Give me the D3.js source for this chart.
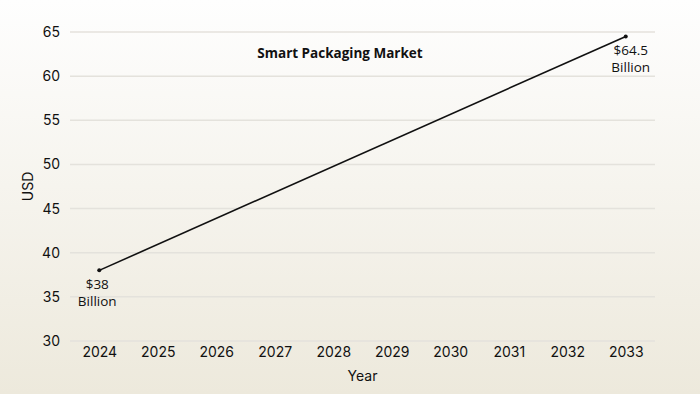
<!DOCTYPE html>
<html>
<head>
<meta charset="utf-8">
<script src="https://cdn.jsdelivr.net/npm/d3@7"></script>
<style>
  body { margin: 0; }
  svg { display: block; }
</style>
</head>
<body>
<div id="container"></div>
<script>
const years = [2024, 2025, 2026, 2027, 2028, 2029, 2030, 2031, 2032, 2033];
const yTicks = [30, 35, 40, 45, 50, 55, 60, 65];
// only the two reported endpoints
const marketYears = [2024, 2033];
const marketValues = [38, 64.5];
const valueLabels = ["$38", "$64.5"];

const W = 700, H = 394;
const margin = { top: 32, right: 45, bottom: 53, left: 70 };

const svg = d3.select("#container").append("svg")
  .attr("width", W)
  .attr("height", H);

// background gradient
const grad = svg.append("defs").append("linearGradient")
  .attr("id", "bg").attr("x1", 0).attr("y1", 0).attr("x2", 0).attr("y2", 1);
grad.append("stop").attr("offset", "0%").attr("stop-color", "#fefefe");
grad.append("stop").attr("offset", "100%").attr("stop-color", "#ede9dc");
svg.append("rect").attr("width", W).attr("height", H).attr("fill", "url(#bg)");

const x = d3.scalePoint()
  .domain(years)
  .range([margin.left, W - margin.right])
  .padding(0.5);

const y = d3.scaleLinear()
  .domain([30, 65])
  .range([H - margin.bottom, margin.top]);

// gridlines
svg.append("g")
  .selectAll("line")
  .data(yTicks)
  .join("line")
  .attr("x1", margin.left)
  .attr("x2", W - margin.right)
  .attr("y1", d => y(d))
  .attr("y2", d => y(d))
  .attr("stroke", "#e4e2dc")
  .attr("stroke-width", 1.5);

// y axis
svg.append("g")
  .attr("transform", `translate(${margin.left},0)`)
  .call(d3.axisLeft(y).tickValues(yTicks).tickSize(0).tickPadding(10))
  .call(g => g.select(".domain").remove())
  .call(g => g.selectAll("text")
    .style("font-family", "Inter, sans-serif")
    .style("font-size", "14px")
    .attr("fill", "#111"));

// x axis
svg.append("g")
  .attr("transform", `translate(0,${H - margin.bottom})`)
  .call(d3.axisBottom(x).tickSize(0).tickPadding(6).tickFormat(d3.format("d")))
  .call(g => g.select(".domain").remove())
  .call(g => g.selectAll("text")
    .style("font-family", "Inter, sans-serif")
    .style("font-size", "14px")
    .attr("fill", "#111"));

const data = marketYears.map((yr, i) => ({ year: yr, value: marketValues[i], label: valueLabels[i] }));

const line = d3.line()
  .x(d => x(d.year))
  .y(d => y(d.value));

svg.append("path")
  .datum(data)
  .attr("fill", "none")
  .attr("stroke", "#111")
  .attr("stroke-width", 1.6)
  .attr("d", line);

svg.selectAll("circle.pt")
  .data(data)
  .join("circle")
  .attr("class", "pt")
  .attr("cx", d => x(d.year))
  .attr("cy", d => y(d.value))
  .attr("r", 2)
  .attr("fill", "#111");

// value labels
const lbl = svg.selectAll("text.val")
  .data(data)
  .join("text")
  .attr("class", "val")
  .attr("x", (d, i) => x(d.year) + (i === 0 ? -2 : 5))
  .attr("y", d => y(d.value) + 19)
  .attr("text-anchor", "middle")
  .style("font-family", "'Open Sans', sans-serif")
  .style("font-size", "13.5px")
  .attr("fill", "#111");
lbl.append("tspan").text(d => d.label);
lbl.append("tspan")
  .attr("x", (d, i) => x(d.year) + (i === 0 ? -2 : 5))
  .attr("dy", "1.25em")
  .text("Billion");

// title
svg.append("text")
  .attr("x", 340)
  .attr("y", 58)
  .attr("text-anchor", "middle")
  .style("font-family", "'Open Sans', sans-serif")
  .style("font-weight", "bold")
  .style("font-size", "13.5px")
  .attr("fill", "#111")
  .text("Smart Packaging Market");

// axis titles
svg.append("text")
  .attr("x", (margin.left + W - margin.right) / 2)
  .attr("y", 381)
  .attr("text-anchor", "middle")
  .style("font-family", "Inter, sans-serif")
  .style("font-size", "14px")
  .attr("fill", "#111")
  .text("Year");

svg.append("text")
  .attr("transform", `translate(33,${(margin.top + H - margin.bottom) / 2}) rotate(-90)`)
  .attr("text-anchor", "middle")
  .style("font-family", "Inter, sans-serif")
  .style("font-size", "14px")
  .attr("fill", "#111")
  .text("USD");
</script>
</body>
</html>
